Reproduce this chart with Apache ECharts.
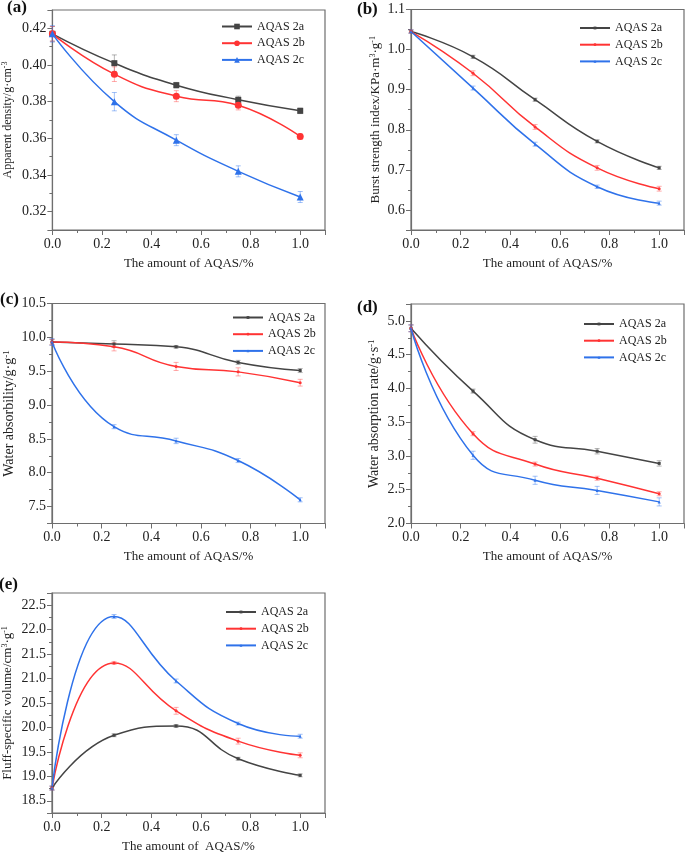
<!DOCTYPE html>
<html><head><meta charset="utf-8">
<script src="https://cdn.jsdelivr.net/npm/echarts@6/dist/echarts.min.js"></script>
<style>html,body{margin:0;padding:0;background:#fff}#c{width:685px;height:857px}</style>
</head><body><div id="c"></div>
<script>
// ---------- data ----------
const xValues = [0, 0.25, 0.5, 0.75, 1.0];
const seriesNames = ['AQAS 2a', 'AQAS 2b', 'AQAS 2c'];
const xTitle = 'The amount of AQAS/%';
const xTitleE = 'The amount of  AQAS/%';

// (a) apparent density
const densityA = [0.417, 0.401, 0.389, 0.381, 0.375];
const densityB = [0.417, 0.395, 0.383, 0.378, 0.361];
const densityC = [0.417, 0.380, 0.359, 0.342, 0.328];
const densityErrA = [0.004, 0.0045, 0.0015, 0.002, 0.0015];
const densityErrB = [0.004, 0.004, 0.003, 0.0025, 0.0015];
const densityErrC = [0.0045, 0.005, 0.003, 0.003, 0.003];

// (b) burst strength index
const burstA = [1.045, 0.982, 0.875, 0.771, 0.705];
const burstB = [1.045, 0.941, 0.807, 0.705, 0.653];
const burstC = [1.045, 0.904, 0.764, 0.658, 0.617];
const burstErrA = [0.004, 0.004, 0.004, 0.004, 0.004];
const burstErrB = [0.004, 0.006, 0.006, 0.006, 0.006];
const burstErrC = [0.004, 0.005, 0.005, 0.004, 0.005];

// (c) water absorbility
const absorbA = [9.93, 9.90, 9.86, 9.63, 9.51];
const absorbB = [9.93, 9.86, 9.57, 9.49, 9.33];
const absorbC = [9.93, 8.68, 8.47, 8.18, 7.60];
const absorbErrA = [0.04, 0.05, 0.02, 0.03, 0.03];
const absorbErrB = [0.04, 0.06, 0.06, 0.06, 0.05];
const absorbErrC = [0.05, 0.03, 0.04, 0.03, 0.03];

// (d) water absorption rate
const rateA = [4.89, 3.96, 3.24, 3.07, 2.89];
const rateB = [4.89, 3.33, 2.88, 2.67, 2.44];
const rateC = [4.89, 3.01, 2.64, 2.49, 2.32];
const rateErrA = [0.05, 0.03, 0.05, 0.04, 0.04];
const rateErrB = [0.05, 0.03, 0.03, 0.03, 0.03];
const rateErrC = [0.05, 0.06, 0.06, 0.06, 0.06];

// (e) fluff-specific volume
const fluffA = [18.76, 19.84, 20.03, 19.36, 19.02];
const fluffB = [18.76, 21.32, 20.34, 19.72, 19.43];
const fluffC = [18.76, 22.27, 20.95, 20.08, 19.82];
const fluffErrA = [0.04, 0.03, 0.03, 0.03, 0.03];
const fluffErrB = [0.04, 0.03, 0.07, 0.06, 0.05];
const fluffErrC = [0.04, 0.04, 0.04, 0.03, 0.04];

// y tick definitions per panel
const yTicksA = {min: 0.31, max: 0.43, step: 0.02, digits: 2};
const yTicksB = {min: 0.55, max: 1.1, step: 0.1, digits: 1};
const yTicksC = {min: 7.25, max: 10.5, step: 0.5, digits: 1};
const yTicksD = {min: 2.0, max: 5.25, step: 0.5, digits: 1};
const yTicksE = {min: 18.25, max: 22.75, step: 0.5, digits: 1};

// ---------- style ----------
const FONT = '"Liberation Serif", "Times New Roman", serif';
const lineColors = ['#444444', '#ff3333', '#2f72ea'];
const errColors = ['rgba(90,90,90,0.45)', 'rgba(255,70,70,0.45)', 'rgba(50,120,240,0.45)'];
const frameColor = '#6e6e6e';

const panels = [
  {label: '(a)', labelPos: [7, 8], grid: {left: 52, top: 10, width: 273, height: 220},
   ticks: yTicksA, showMin: false, showMax: false,
   yName: 'Apparent density/g·cm{s|-3}', yNameSize: 12, yNameGap: 38, xName: xTitle, xNameGap: 27,
   series: [densityA, densityB, densityC], errs: [densityErrA, densityErrB, densityErrC],
   symbols: ['rect', 'circle', 'triangle'], symbolSizes: [6, 7, 7], legendIcon: 7,
   legend: {left: 221, top: 20.5}},
  {label: '(b)', labelPos: [357, 10], grid: {left: 411, top: 9.5, width: 273, height: 220.5},
   ticks: yTicksB, showMin: false, showMax: true,
   yName: 'Burst strength index/KPa·m{s|3}·g{s|-1}', yNameSize: 13, yNameGap: 28, xName: xTitle, xNameGap: 27,
   series: [burstA, burstB, burstC], errs: [burstErrA, burstErrB, burstErrC],
   symbols: ['rect', 'circle', 'triangle'], symbolSizes: [3, 3, 3], legendIcon: 3.5,
   legend: {left: 579, top: 22}},
  {label: '(c)', labelPos: [0, 300], grid: {left: 52, top: 303.5, width: 273, height: 220},
   ticks: yTicksC, showMin: false, showMax: true,
   yName: 'Water absorbility/g·g{s|-1}', yNameSize: 14, yNameGap: 35, xName: xTitle, xNameGap: 27,
   series: [absorbA, absorbB, absorbC], errs: [absorbErrA, absorbErrB, absorbErrC],
   symbols: ['rect', 'circle', 'triangle'], symbolSizes: [3, 3, 3], legendIcon: 3.5,
   legend: {left: 232, top: 311.5}},
  {label: '(d)', labelPos: [357, 308], grid: {left: 411, top: 304, width: 273, height: 219.5},
   ticks: yTicksD, showMin: true, showMax: false,
   yName: 'Water absorption rate/g·s{s|-1}', yNameSize: 14, yNameGap: 29, xName: xTitle, xNameGap: 27,
   series: [rateA, rateB, rateC], errs: [rateErrA, rateErrB, rateErrC],
   symbols: ['rect', 'circle', 'triangle'], symbolSizes: [3, 3, 3], legendIcon: 3.5,
   legend: {left: 583, top: 318}},
  {label: '(e)', labelPos: [-1, 585], grid: {left: 52, top: 593, width: 273, height: 220},
   ticks: yTicksE, showMin: false, showMax: false,
   yName: 'Fluff-specific volume/cm{s|3}·g{s|-1}', yNameSize: 13, yNameGap: 37, xName: xTitleE, xNameGap: 27,
   series: [fluffA, fluffB, fluffC], errs: [fluffErrA, fluffErrB, fluffErrC],
   symbols: ['rect', 'circle', 'triangle'], symbolSizes: [3, 3, 3], legendIcon: 3.5,
   legend: {left: 225, top: 606}}
];

const grids = [], xAxes = [], yAxes = [], series = [], legends = [], graphics = [];

function errorRender(color) {
  return function (params, api) {
    const x = api.value(0), lo = api.value(1), hi = api.value(2);
    const p1 = api.coord([x, hi]);
    const p2 = api.coord([x, lo]);
    const w = 2.5;
    const st = {stroke: color, lineWidth: 1};
    return {type: 'group', children: [
      {type: 'line', shape: {x1: p1[0], y1: p1[1], x2: p2[0], y2: p2[1]}, style: st},
      {type: 'line', shape: {x1: p1[0] - w, y1: p1[1], x2: p1[0] + w, y2: p1[1]}, style: st},
      {type: 'line', shape: {x1: p2[0] - w, y1: p2[1], x2: p2[0] + w, y2: p2[1]}, style: st}
    ]};
  };
}

panels.forEach((p, gi) => {
  grids.push(Object.assign({show: true, borderColor: frameColor, borderWidth: 1.2, backgroundColor: 'transparent'}, p.grid));
  xAxes.push({
    type: 'value', gridIndex: gi, min: 0, max: 1.1, interval: 0.2,
    name: p.xName, nameLocation: 'middle', nameGap: p.xNameGap,
    nameTextStyle: {fontFamily: FONT, fontSize: 13, color: '#222'},
    axisLine: {show: true, lineStyle: {color: frameColor, width: 1.2}},
    axisTick: {show: true, inside: false, length: 5, lineStyle: {color: frameColor, width: 1}},
    minorTick: {show: true, splitNumber: 2, length: 3, lineStyle: {color: frameColor, width: 1}},
    splitLine: {show: false},
    axisLabel: {fontFamily: FONT, fontSize: 14, color: '#222', margin: 7, showMaxLabel: false, showMinLabel: true,
      formatter: v => v.toFixed(1)}
  });
  const t = p.ticks;
  yAxes.push({
    type: 'value', gridIndex: gi, min: t.min, max: t.max, minInterval: t.step, maxInterval: t.step,
    name: p.yName, nameLocation: 'middle', nameRotate: 90, nameGap: p.yNameGap,
    nameTextStyle: {fontFamily: FONT, fontSize: p.yNameSize, color: '#222',
      rich: {s: {fontFamily: FONT, fontSize: Math.round(p.yNameSize * 0.65), color: '#222', verticalAlign: 'top', padding: [0, 0, p.yNameSize * 0.45, 0]}}},
    axisLine: {show: true, lineStyle: {color: frameColor, width: 1.2}},
    axisTick: {show: true, inside: false, length: 5, lineStyle: {color: frameColor, width: 1}},
    minorTick: {show: true, splitNumber: 2, length: 3, lineStyle: {color: frameColor, width: 1}},
    splitLine: {show: false},
    axisLabel: {fontFamily: FONT, fontSize: 14, color: '#222', margin: 6,
      showMinLabel: p.showMin, showMaxLabel: p.showMax,
      formatter: v => v.toFixed(t.digits)}
  });
  const names = seriesNames.map(n => n + '|' + gi);
  p.series.forEach((vals, si) => {
    series.push({
      type: 'custom', xAxisIndex: gi, yAxisIndex: gi, z: 1, silent: true,
      renderItem: errorRender(errColors[si]),
      encode: {x: 0, y: [1, 2]},
      data: xValues.map((x, k) => [x, vals[k] - p.errs[si][k], vals[k] + p.errs[si][k]])
    });
  });
  p.series.forEach((vals, si) => {
    series.push({
      type: 'line', name: names[si], xAxisIndex: gi, yAxisIndex: gi, z: 3,
      smooth: 0.5, symbol: p.symbols[si], symbolSize: p.symbolSizes[si], showSymbol: true,
      lineStyle: {color: lineColors[si], width: 1.5},
      itemStyle: {color: lineColors[si], borderWidth: 0},
      data: xValues.map((x, k) => [x, vals[k]])
    });
  });
  legends.push({
    orient: 'vertical', left: p.legend.left, top: p.legend.top, padding: 0,
    itemWidth: 30, itemHeight: p.legendIcon, itemGap: 4.7,
    data: names, formatter: n => n.split('|')[0],
    textStyle: {fontFamily: FONT, fontSize: 12, color: '#222', lineHeight: 12},
    selectedMode: false
  });
  graphics.push({type: 'text', left: p.labelPos[0], top: p.labelPos[1] - 9,
    style: {text: p.label, font: 'bold 17px ' + FONT, fill: '#111'}});
});

const chart = echarts.init(document.getElementById('c'), null, {renderer: 'canvas'});
chart.setOption({
  animation: false,
  backgroundColor: '#fff',
  grid: grids, xAxis: xAxes, yAxis: yAxes, series: series, legend: legends, graphic: graphics
});
</script></body></html>
